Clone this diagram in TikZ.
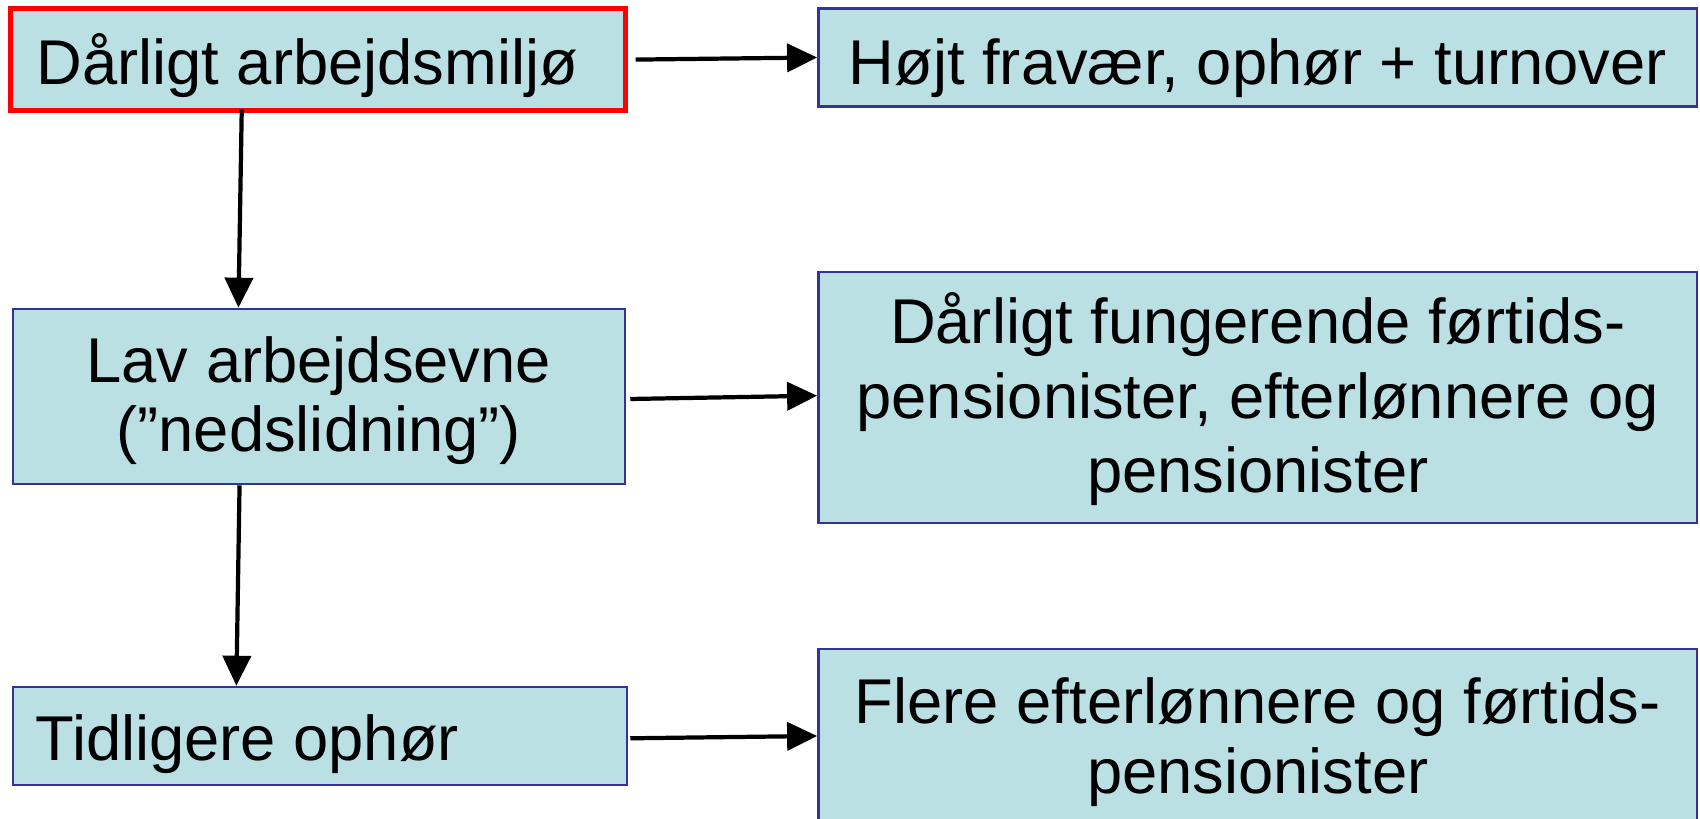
\documentclass[tikz,border=0pt]{standalone}
\usepackage{fontspec}
\setmainfont{Liberation Sans}
\usetikzlibrary{arrows.meta}
\definecolor{boxfill}{RGB}{187,224,227}
\definecolor{boxline}{RGB}{51,51,153}
\begin{document}
\begin{tikzpicture}[x=0.01cm,y=-0.01cm,
  box/.style={draw=boxline,line width=0.7pt,fill=boxfill,inner sep=0pt},
  redbox/.style={box,draw=red,line width=1.4pt},
  txt/.style={font=\fontsize{18}{20}\selectfont,inner sep=0pt,align=center},
  arr/.style={line width=1.2pt,-{Triangle[length=0.3cm,width=0.28cm]}}]
\useasboundingbox (0,0) rectangle (1700,819);
% boxes
\node[redbox,minimum width=6.148cm,minimum height=1.019cm] (b1) at (318.2,59.6) {};
\node[box,minimum width=8.782cm,minimum height=0.976cm] (b2) at (1257.7,57.5) {};
\node[box,minimum width=6.115cm,minimum height=1.75cm] (b3) at (318.8,396.5) {};
\node[box,minimum width=8.782cm,minimum height=2.51cm] (b4) at (1257.7,397.5) {};
\node[box,minimum width=6.137cm,minimum height=0.98cm] (b5) at (319.9,736) {};
\node[box,minimum width=8.782cm,minimum height=1.76cm] (b6) at (1257.7,737) {};
% texts (anchor=base is the baseline of the last line)
\node[txt,anchor=base west] (t1) at (35.8,84.6) {Dårligt arbejdsmiljø};
\node[txt,anchor=base] (t2) at (1257.7,84.6) {Højt fravær, ophør + turnover};
\node[txt,anchor=base,font=\fontsize{18}{19.9}\selectfont] (t3) at (318.8,452) {Lav arbejdsevne\\(”nedslidning”)};
\node[txt,anchor=base,font=\fontsize{18}{21.3}\selectfont] (t4) at (1257.7,493) {Dårligt fungerende førtids-\\pensionister, efterlønnere og\\pensionister};
\node[txt,anchor=base west] (t5) at (35,760) {Tidligere ophør};
\node[txt,anchor=base,font=\fontsize{18}{19.9}\selectfont] (t6) at (1257.7,793) {Flere efterlønnere og førtids-\\pensionister};
% arrows
\draw[arr] ([xshift=0.074cm]b1.east) -- (b2.west);
\draw[arr] ([xshift=-0.764cm,yshift=0.04cm]b1.south) -- ([xshift=-0.803cm]b3.north);
\draw[arr] ([xshift=0.043cm,yshift=-0.025cm]b3.east) -- ([yshift=0.018cm]b4.west);
\draw[arr] ([xshift=-0.792cm]b3.south) -- ([xshift=-0.835cm]b5.north);
\draw[arr] ([xshift=0.021cm,yshift=-0.023cm]b5.east) -- ([yshift=0.01cm]b6.west);
\end{tikzpicture}
\end{document}
